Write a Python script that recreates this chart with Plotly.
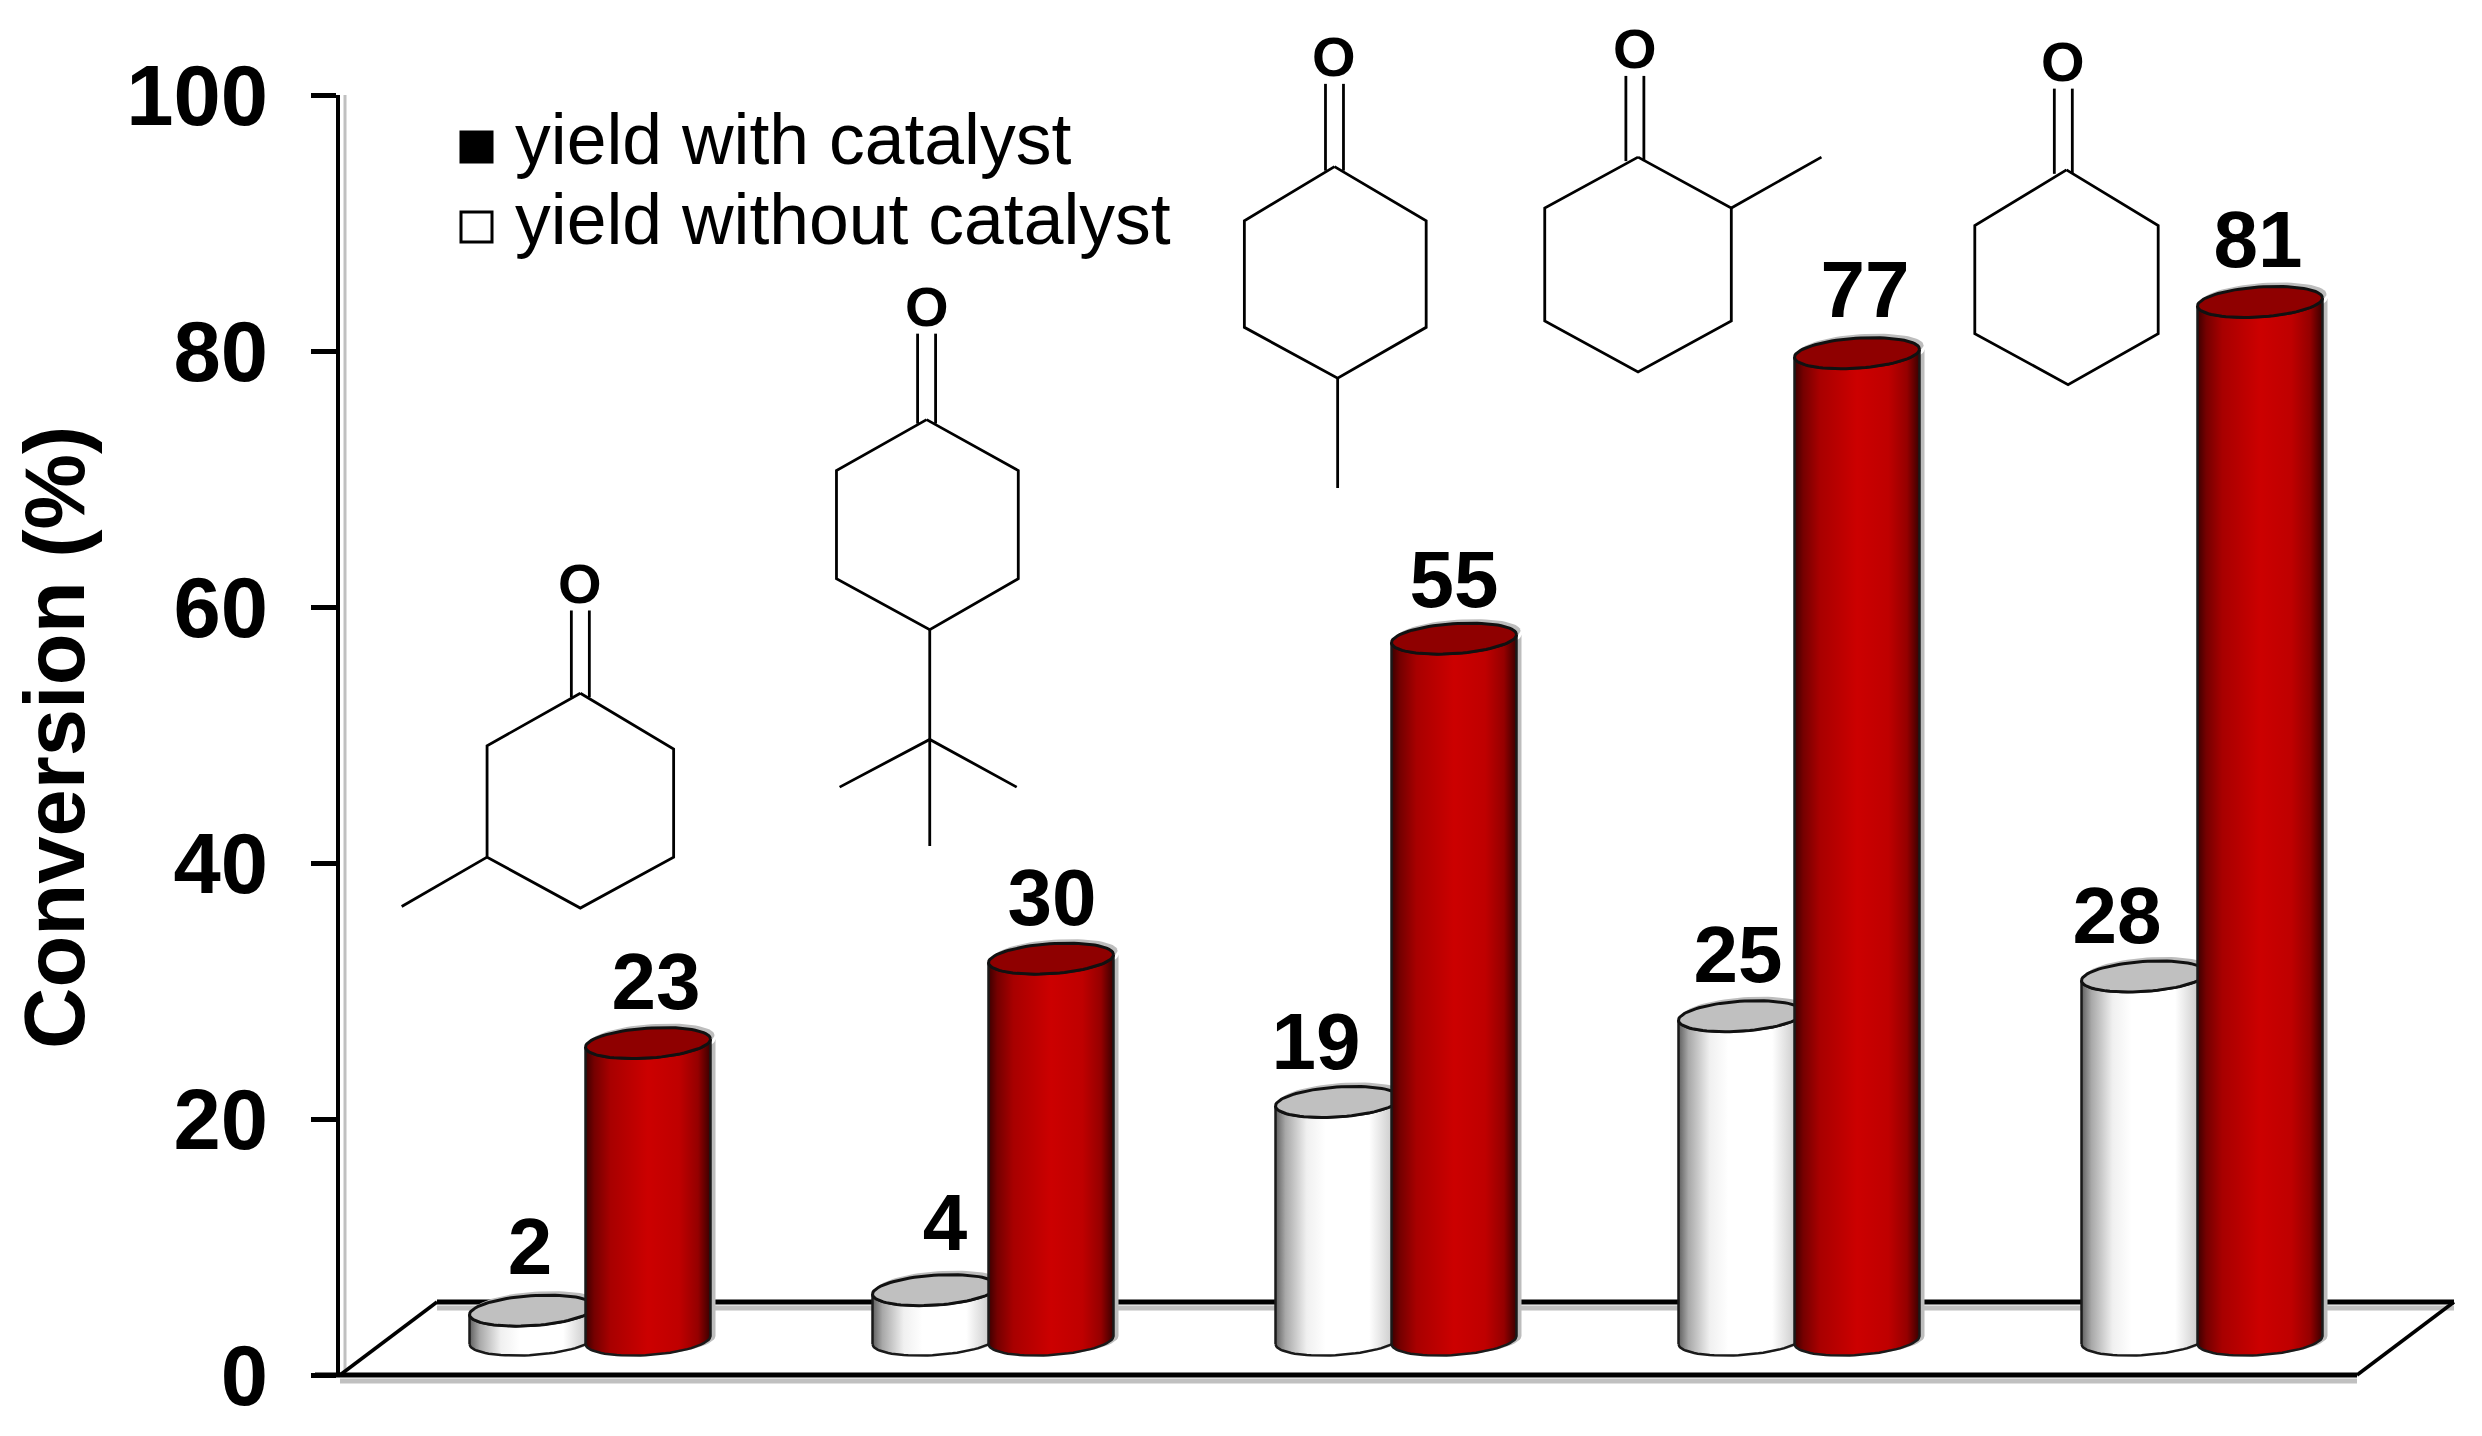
import numpy as np
import plotly.graph_objects as go

# ---- data ----
categories = [1, 2, 3, 4, 5]
with_catalyst = [23.2, 29.8, 54.8, 77.1, 81.1]
without_catalyst = [2.3, 3.9, 18.6, 25.3, 28.4]
y_ticks = [0, 20, 40, 60, 80, 100]
series_names = ["yield with catalyst", "yield without catalyst"]
y_title = "Conversion (%)"

# ---- canvas geometry (pixels) ----
W, H = 2482, 1436
L, R, T, B = 332, 2446, 87, 1367
G1, GS = 582, 403            # first group centre, group spacing
X0 = 1 + (L - G1) / GS
X1 = 1 + (R - G1) / GS
PX_X = 1 / GS                # x units per pixel
PX_Y = 100 / (B - T)         # y units per pixel

FLOOR = 2.73                 # data height of the 3D floor under the bars
A = 62.5 * PX_X              # cylinder half width
EB = 15 * PX_Y               # ellipse half height
EK = 4 * PX_Y                # ellipse tilt
OFF = 58 * PX_X              # bar offset in a group
BW = 125 * PX_X

FONT = "Liberation Sans"
RED_SCALE = [[0, "#3c0000"], [0.07, "#750000"], [0.2, "#a80000"], [0.5, "#cc0000"],
             [0.75, "#bf0000"], [0.9, "#950000"], [1, "#3a0000"]]
WHITE_SCALE = [[0, "#606060"], [0.08, "#a8a8a8"], [0.25, "#f0f0f0"], [0.4, "#ffffff"],
               [0.75, "#ffffff"], [0.92, "#d0d0d0"], [1, "#9a9a9a"]]


def px(x):
    return (x - L) / (R - L)


def py(y):
    return (B - y) / (B - T)


t_half = np.linspace(np.pi, 0, 40)
t_full = np.linspace(0, 2 * np.pi, 80)


def body(c, top):
    xb = c + A * np.cos(t_half)
    yb = FLOOR - EB * np.sin(t_half) + EK * np.cos(t_half)
    xt = xb[::-1]
    yt = top - EB * np.sin(t_half[::-1]) + EK * np.cos(t_half[::-1])
    return np.r_[xb, xt, xb[0]], np.r_[yb, yt, yb[0]]


def cap(c, top):
    return c + A * np.cos(t_full), top + EB * np.sin(t_full) + EK * np.cos(t_full)


fig = go.Figure()

# real bars, hidden beneath the shaded cylinders built on the same values
for vals, dx, colour, name in [(without_catalyst, -OFF, "#ffffff", series_names[1]),
                               (with_catalyst, OFF, "#c80000", series_names[0])]:
    fig.add_trace(go.Bar(x=[c + dx for c in categories], y=vals, base=FLOOR, width=BW,
                         marker=dict(color=colour, line=dict(width=0)),
                         name=name, showlegend=False, hoverinfo="skip"))

for vals, dx, scale, cap_col in [(without_catalyst, -OFF, WHITE_SCALE, "#c0c0c0"),
                                 (with_catalyst, OFF, RED_SCALE, "#8f0000")]:
    for c, v in zip(categories, vals):
        cx = c + dx
        top = FLOOR + v
        bx, by = body(cx, top)
        # grey drop shadow
        fig.add_trace(go.Scatter(x=bx + 5 * PX_X, y=by, mode="lines", fill="toself",
                                 fillcolor="#bdbdbd", line=dict(width=0),
                                 showlegend=False, hoverinfo="skip"))
        cxs, cys = cap(cx, top)
        fig.add_trace(go.Scatter(x=cxs + 4 * PX_X, y=cys + 4 * PX_Y, mode="lines", fill="toself",
                                 fillcolor="#bdbdbd", line=dict(width=0),
                                 showlegend=False, hoverinfo="skip"))
        fig.add_trace(go.Scatter(x=bx, y=by, mode="lines", fill="toself",
                                 fillgradient=dict(type="horizontal", colorscale=scale),
                                 line=dict(color="#1a1a1a", width=2.5),
                                 showlegend=False, hoverinfo="skip"))
        fig.add_trace(go.Scatter(x=cxs, y=cys, mode="lines", fill="toself", fillcolor=cap_col,
                                 line=dict(color="#111111", width=3),
                                 showlegend=False, hoverinfo="skip"))

# value labels (printed as whole numbers, nudged in pixels)
label_dx_white = [-2, 10, -22, -3, -27]
label_dx_red = [8, 1, 0, 8, -2]
label_dy_white = [7, 10, 3, 4, 4]
label_dy_red = [4, 4, 2, 6, 5]
for vals, dx, nx, ny in [(without_catalyst, -OFF, label_dx_white, label_dy_white),
                         (with_catalyst, OFF, label_dx_red, label_dy_red)]:
    fig.add_trace(go.Scatter(
        x=[c + dx + n * PX_X for c, n in zip(categories, nx)],
        y=[FLOOR + v + (50 + n) * PX_Y for v, n in zip(vals, ny)],
        mode="text", text=[str(round(v)) for v in vals], textposition="middle center",
        textfont=dict(family=FONT, size=80, color="black", weight="bold"),
        showlegend=False, hoverinfo="skip"))

shapes = []


def line_px(pts, width=3, colour="black", layer="above"):
    d = "M " + " L ".join(f"{px(x):.5f},{py(y):.5f}" for x, y in pts)
    shapes.append(dict(type="path", path=d, xref="paper", yref="paper",
                       line=dict(color=colour, width=width), layer=layer))


# floor parallelogram (with grey shadows), drawn under the bars
fx_l, fx_r, bx_l, bx_r = L, 2349, 429, R
fy, by_ = B, 1294
line_px([(fx_l, fy + 6), (fx_r, fy + 6)], 5, "#c0c0c0", "below")
line_px([(bx_l, by_ + 6), (bx_r, by_ + 6)], 5, "#c0c0c0", "below")
line_px([(L + 5, T), (L + 5, B)], 3, "#c0c0c0", "below")
line_px([(fx_l - 25, fy), (fx_r, fy)], 5, "black", "below")
line_px([(bx_l, by_), (bx_r, by_)], 5, "black", "below")
line_px([(fx_l, fy), (bx_l, by_)], 3.5, "black", "below")
line_px([(fx_r, fy), (bx_r, by_)], 3.5, "black", "below")

# chemical structures, in pixels of the reference picture
annotations = []


def mp(p):
    return (p[0] * 1.581 - 6.3, p[1] * 1.591 - 10)


def mol(o, ring, extra):
    oxy = mp(o)
    pts = [mp(p) for p in ring]
    line_px(pts + [pts[0]], 2.8)
    top = pts[0]
    for d in (-9, 9):
        line_px([(oxy[0] + d, oxy[1] + 27), (oxy[0] + d, top[1] + 4)], 2.8)
    for seg in extra:
        line_px([mp(p) for p in seg], 2.8)
    annotations.append(dict(x=px(oxy[0]), y=py(oxy[1]), xref="paper", yref="paper", text="<b>O</b>",
                            showarrow=False, xanchor="center", yanchor="middle",
                            font=dict(family=FONT, size=56, color="black")))


mol((366, 368), [(366, 437), (425, 472), (425, 540), (366, 572), (307, 540), (307, 470)],
    [[(307, 540), (253, 571)]])
mol((585, 194), [(585, 265), (643, 297), (643, 365), (587, 397), (528, 365), (528, 297)],
    [[(587, 397), (587, 533)], [(530, 496), (587, 466), (642, 496)]])
mol((843, 37), [(843, 106), (901, 140), (901, 207), (845, 239), (786, 207), (786, 140)],
    [[(845, 239), (845, 308)]])
mol((1033, 32), [(1035, 100), (1094, 132), (1094, 203), (1035, 235), (976, 203), (976, 132)],
    [[(1094, 132), (1151, 100)]])
mol((1304, 40), [(1306, 108), (1364, 143), (1364, 211), (1307, 243), (1248, 211), (1248, 143)],
    [])

# legend
for name, yc, fill in [(series_names[0], 131, "black"), (series_names[1], 211, "white")]:
    shapes.append(dict(type="rect", xref="paper", yref="paper", x0=px(453), x1=px(484),
                       y0=py(yc + 8 - 15), y1=py(yc + 8 + 15), fillcolor=fill,
                       line=dict(color="black", width=3)))
    annotations.append(dict(x=px(505), y=py(yc), xref="paper", yref="paper", text=name,
                            showarrow=False, xanchor="left", yanchor="middle",
                            font=dict(family=FONT, size=71.5, color="black")))

# y axis title
annotations.append(dict(x=px(46), y=py(730), xref="paper", yref="paper", text=f"<b>{y_title}</b>",
                        textangle=-90, showarrow=False, xanchor="center", yanchor="middle",
                        font=dict(family=FONT, size=85, color="black")))

fig.update_layout(
    width=W, height=H, autosize=False,
    margin=dict(l=L, r=W - R, t=T, b=H - B, pad=0),
    paper_bgcolor="white", plot_bgcolor="white",
    barmode="overlay", bargap=0,
    shapes=shapes, annotations=annotations, showlegend=False,
    xaxis=dict(range=[X0, X1], visible=False, fixedrange=True),
    yaxis=dict(range=[0, 100], tickmode="array", tickvals=y_ticks,
               ticktext=[str(v) for v in y_ticks],
               showgrid=False, zeroline=False, showline=True, linecolor="black", linewidth=4,
               ticks="outside", ticklen=25, tickwidth=5, tickcolor="black",
               ticklabelstandoff=26,
               tickfont=dict(family=FONT, size=85, color="black", weight="bold"),
               automargin=False),
)

fig.write_html("out.html", config=dict(displayModeBar=False))
